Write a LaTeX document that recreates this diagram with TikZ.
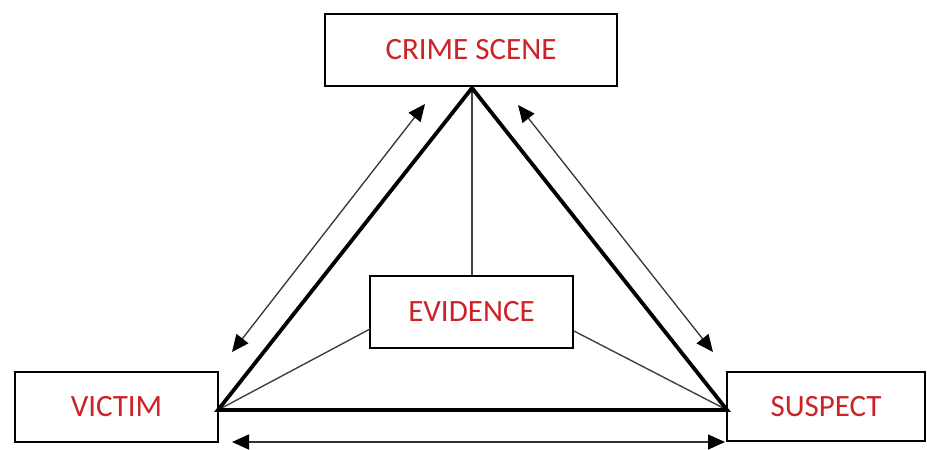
\documentclass[tikz,border=0pt]{standalone}
\usepackage{fontspec}
\setmainfont{Carlito}
\usetikzlibrary{arrows.meta}
\definecolor{textred}{RGB}{205,35,40}
\begin{document}
\begin{tikzpicture}[x=1pt,y=-1pt,
  box/.style={draw=black,line width=2.4pt,fill=white,inner sep=0pt,
    font=\fontsize{31}{32}\selectfont,text=textred},
  tri/.style={line width=3.8pt,line join=miter},
  thin/.style={line width=1.4pt,draw=black!75},
  dbl/.style={line width=1.3pt,draw=black!80,
    {Triangle[length=17pt,width=15pt,color=black]}-{Triangle[length=17pt,width=15pt,color=black]}}]
\useasboundingbox (0,0) rectangle (927,450);
\node[box,minimum width=292pt,minimum height=72pt] (cs) at (471,50) {CRIME SCENE};
\node[box,minimum width=203pt,minimum height=70pt] (vi) at (116.5,407) {VICTIM};
\node[box,minimum width=198pt,minimum height=69pt] (su) at (826,406.5) {SUSPECT};
\node[box,minimum width=203pt,minimum height=72pt] (ev) at (471.5,312) {EVIDENCE};
\coordinate (A) at (472,88);
\coordinate (B) at (218,410);
\coordinate (C) at (727,410);
\coordinate (evl) at (370,329);
\coordinate (evr) at (574,331);
\draw[thin] (A) -- (ev.north -| A);
\draw[thin] (B) -- (evl);
\draw[thin] (evr) -- (C);
\draw[tri] (A) -- (B) -- (C) -- cycle;
\coordinate (l1) at (232,352);
\coordinate (l2) at (425,104);
\coordinate (r1) at (518,105);
\coordinate (r2) at (713,352);
\coordinate (b1) at (232,442);
\coordinate (b2) at (725,442);
\draw[dbl] (l1) -- (l2);
\draw[dbl] (r1) -- (r2);
\draw[dbl] (b1) -- (b2);
\end{tikzpicture}
\end{document}
